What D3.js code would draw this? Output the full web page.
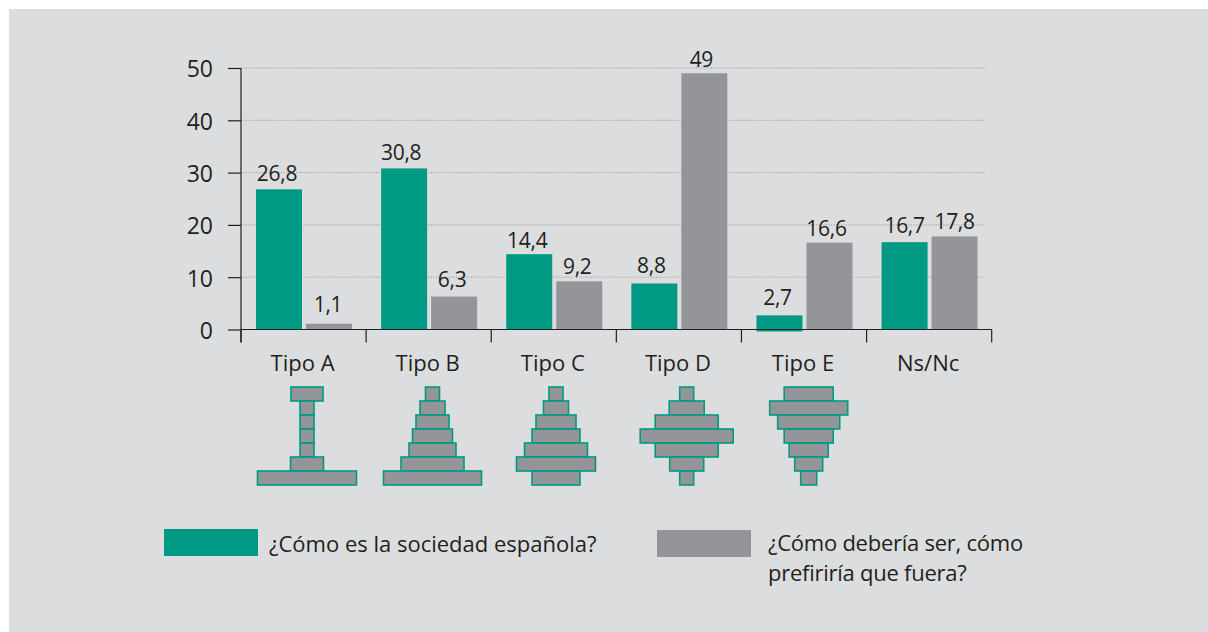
<!DOCTYPE html>
<html>
<head>
<meta charset="utf-8">
<script src="https://cdn.jsdelivr.net/npm/d3@7"></script>
<style>
  html, body { margin: 0; padding: 0; background: #fff; }
  svg { display: block; }
  text { font-family: "Open Sans", "Noto Sans", sans-serif; fill: #231f20; }
</style>
</head>
<body>
<svg id="chart" width="1208" height="632"></svg>
<script>
const categories = ["Tipo A", "Tipo B", "Tipo C", "Tipo D", "Tipo E", "Ns/Nc"];
const actual = [26.8, 30.8, 14.4, 8.8, 2.7, 16.7];
const preferred = [1.1, 6.3, 9.2, 49, 16.6, 17.8];
const yTicks = [0, 10, 20, 30, 40, 50];
const legendLabels = ["¿Cómo es la sociedad española?", ["¿Cómo debería ser, cómo", "prefiriría que fuera?"]];

// row widths of the small population pyramids, top to bottom
const pyramids = [
    [32, 14, 14, 14, 14, 33, 99],
    [14, 25, 33, 40, 47, 63, 98],
    [14, 25, 40, 48, 63, 79, 48],
    [14, 35, 63, 93, 63, 34, 14],
    [49, 78, 62, 49, 39, 28, 16]
];

const GREEN = "#009a84";
const GREY = "#939598";
const INK = "#231f20";

const svg = d3.select("#chart");

svg.append("rect")
    .attr("x", 9).attr("y", 9)
    .attr("width", 1199).attr("height", 623)
    .attr("fill", "#dcddde");

const x = d3.scaleBand().domain(categories).range([241, 991.7]);
const y = d3.scaleLinear().domain([0, 50]).range([329.5, 68]);

const barWidth = 46;
const fmt = v => String(v).replace(".", ",");

// grid lines
svg.append("g")
    .selectAll("line")
    .data(yTicks.filter(d => d > 0))
    .join("line")
    .attr("x1", 241).attr("x2", 986)
    .attr("y1", d => y(d)).attr("y2", d => y(d))
    .attr("stroke", "#808285")
    .attr("stroke-width", 0.8)
    .attr("stroke-dasharray", "1 1.5");

// bars
const groups = svg.append("g")
    .selectAll("g")
    .data(categories)
    .join("g")
    .attr("transform", d => `translate(${x(d)},0)`);

// the labels in the original are placed by hand, so each one has its own nudge
const seriesBars = [
    {values: actual, color: GREEN, offset: 15, nudgeX: [-2, -3, -2, -3, -2, 0], nudgeY: [8, 8, 6, 10, 10, 9]},
    {values: preferred, color: GREY, offset: 65, nudgeX: [-1, -2, -2, -3, -3, 0], nudgeY: [12, 10, 7, 6, 7, 7]}
];

seriesBars.forEach(s => {
    groups.append("rect")
        .attr("x", s.offset)
        .attr("y", (d, i) => y(s.values[i]))
        .attr("width", barWidth)
        .attr("height", (d, i) => y(0) - y(s.values[i]) + (s.values[i] === 2.7 ? 2 : 0))
        .attr("fill", s.color);
    groups.append("text")
        .attr("x", (d, i) => s.offset + barWidth / 2 + s.nudgeX[i])
        .attr("y", (d, i) => y(s.values[i]) - s.nudgeY[i])
        .attr("text-anchor", "middle")
        .attr("font-size", 21)
        .attr("letter-spacing", -0.3)
        .text((d, i) => fmt(s.values[i]));
});

// y axis
const yAxis = d3.axisLeft(y).tickValues(yTicks).tickSize(13).tickPadding(15);
const yG = svg.append("g").attr("transform", "translate(241,0)").call(yAxis);
yG.attr("font-family", null);
yG.select(".domain").attr("d", `M0,${y(50)}V${y(0) + 13}`).attr("stroke", INK).attr("stroke-width", 1.2);
yG.selectAll(".tick line").attr("stroke", INK).attr("stroke-width", 1.2);
yG.selectAll(".tick text")
    .attr("font-size", 23)
    .attr("fill", INK)
    .attr("y", 1.5);

// x axis, ticks on the band edges
const xG = svg.append("g").attr("transform", `translate(0,${y(0)})`);
xG.append("line")
    .attr("x1", 241).attr("x2", x.range()[1])
    .attr("stroke", INK).attr("stroke-width", 1.2);
xG.selectAll(".edge")
    .data(d3.range(categories.length + 1))
    .join("line")
    .attr("class", "edge")
    .attr("x1", i => 241 + i * x.bandwidth())
    .attr("x2", i => 241 + i * x.bandwidth())
    .attr("y1", 0).attr("y2", 13)
    .attr("stroke", INK).attr("stroke-width", 1.2);
xG.selectAll(".cat")
    .data(categories)
    .join("text")
    .attr("class", "cat")
    .attr("x", d => x(d) + x.bandwidth() / 2 - 1)
    .attr("y", 41.5)
    .attr("text-anchor", "middle")
    .attr("font-size", 22)
    .text(d => d);

// pyramids
const rowY = d3.scaleBand().domain(d3.range(7)).range([387, 485]);
const pyramidCenters = [307, 432.5, 556, 686.7, 808.7];
pyramids.forEach((rows, p) => {
    svg.append("g")
        .selectAll("rect")
        .data(rows)
        .join("rect")
        .attr("x", w => pyramidCenters[p] - w / 2)
        .attr("y", (w, i) => rowY(i))
        .attr("width", w => w)
        .attr("height", rowY.bandwidth())
        .attr("fill", GREY)
        .attr("stroke", GREEN)
        .attr("stroke-width", 1.6);
});

// legend
const legend = svg.append("g");
legend.append("rect").attr("x", 164).attr("y", 529).attr("width", 94).attr("height", 27).attr("fill", GREEN);
legend.append("rect").attr("x", 657).attr("y", 530).attr("width", 94).attr("height", 27).attr("fill", GREY);
legend.append("text")
    .attr("x", 269).attr("y", 552)
    .attr("font-size", 22)
    .text(legendLabels[0]);
legend.selectAll(".second")
    .data(legendLabels[1])
    .join("text")
    .attr("class", "second")
    .attr("x", 768)
    .attr("y", (d, i) => 551 + i * 30)
    .attr("font-size", 22)
    .attr("letter-spacing", -0.25)
    .text(d => d);
</script>
</body>
</html>
